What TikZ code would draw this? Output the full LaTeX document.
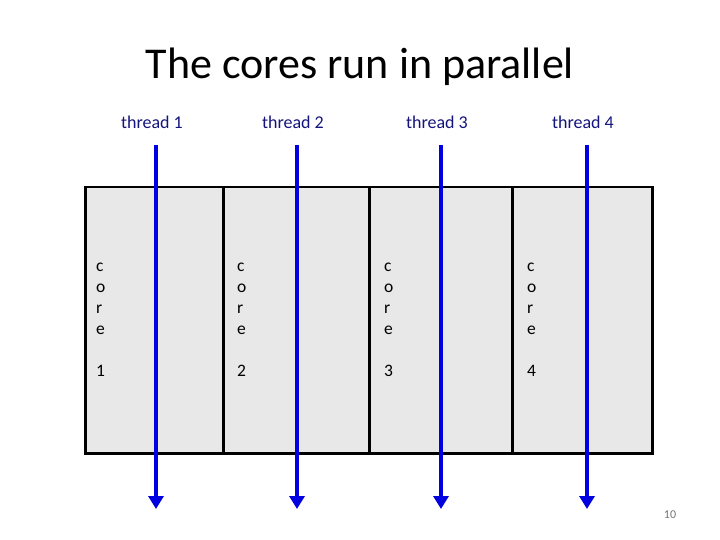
\documentclass[tikz,border=0pt]{standalone}
\usepackage{fontspec}
\setmainfont{Carlito}
\usetikzlibrary{arrows.meta}
\colorlet{cellfill}{black!9}
\definecolor{thrtext}{RGB}{20,20,125}
\definecolor{thrline}{RGB}{0,0,225}

\begin{document}
\begin{tikzpicture}[x=1pt, y=-1pt,
    cell/.style={draw=black, line width=2.5pt, fill=cellfill, anchor=north west,
      minimum height=266pt, inner sep=0pt},
    corelabel/.style={anchor=north west, align=left, inner sep=0pt,
      font=\fontsize{17.5}{21}\selectfont},
    thrlabel/.style={text=thrtext, font=\fontsize{18}{21}\selectfont},
    thread/.style={draw=thrline, line width=3.5pt,
      -{Triangle[length=13pt,width=15pt]}}]
    \useasboundingbox (0,0) rectangle (720,540);

    \node[font=\fontsize{44}{50}\selectfont] (title) at (360,67) {The cores run in parallel};

    % the four cores
    \node[cell, minimum width=138pt] (cell1) at (84,186) {};
    \node[cell, minimum width=146pt] (cell2) at (222,186) {};
    \node[cell, minimum width=143pt] (cell3) at (368,186) {};
    \node[cell, minimum width=140pt] (cell4) at (511,186) {};

    \foreach \i/\x in {1/96, 2/237, 3/384, 4/527} {
      \node[corelabel] (core\i) at (\x,263) {c\\o\\r\\e\\[21pt]\i};
    }

    % the threads
    \foreach \i/\x in {1/156, 2/297, 3/441, 4/587} {
      \node[thrlabel] (thr\i) at (\x-4,122) {thread \i};
      \coordinate (thr\i top) at (\x,145);
      \coordinate (thr\i end) at (\x,509);
      \draw[thread] (thr\i top) -- (thr\i end);
    }

    \node[text=black!55, font=\fontsize{12}{14}\selectfont] (page) at (670,515) {10};
\end{tikzpicture}
\end{document}
